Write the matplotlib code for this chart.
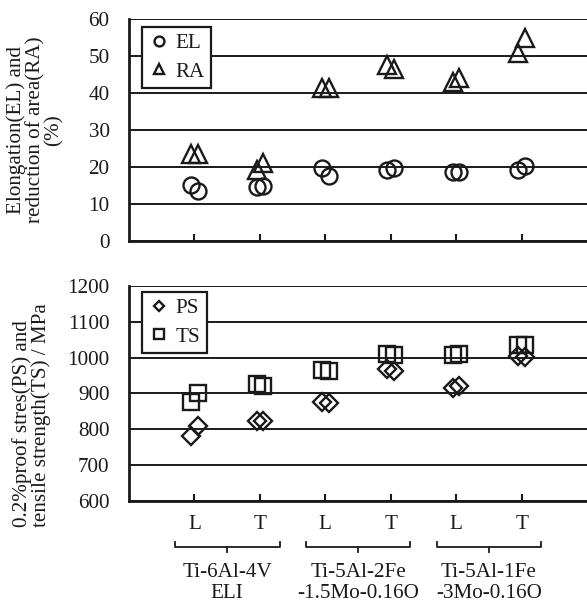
import matplotlib
matplotlib.use("Agg")
import matplotlib.pyplot as plt
import matplotlib.transforms as mtransforms
import numpy as np

plt.rcParams['font.family'] = ['Liberation Serif', 'DejaVu Serif']

# ---- data ----
directions = ["L", "T", "L", "T", "L", "T"]
alloys = ["Ti-6Al-4V\nELI", "Ti-5Al-2Fe\n-1.5Mo-0.16O", "Ti-5Al-1Fe\n-3Mo-0.16O"]
EL_a = [15.1, 14.5, 19.6, 19.2, 18.7, 19.2]
EL_b = [13.6, 15.0, 17.6, 19.6, 18.7, 20.4]
RA_a = [23.6, 19.2, 41.3, 47.6, 43.1, 50.7]
RA_b = [23.6, 21.0, 41.3, 46.5, 44.0, 54.8]
PS_a = [782, 824, 877, 968, 914, 1005]
PS_b = [810, 824, 872, 963, 920, 1002]
TS_a = [877, 925, 965, 1010, 1007, 1035]
TS_b = [902, 921, 963, 1007, 1011, 1035]
top_ticks = [0, 10, 20, 30, 40, 50, 60]
bot_ticks = [600, 700, 800, 900, 1000, 1100, 1200]

x = np.arange(1, len(directions) + 1)
dx = 0.05
xa, xb = x - dx, x + dx

fig = plt.figure(figsize=(5.87, 6.03), dpi=100)
ax1 = fig.add_axes([0.2198, 0.6003, 0.7802, 0.3682])
ax2 = fig.add_axes([0.2198, 0.1692, 0.7802, 0.3566])

FS = 15.2
INK = '#1a1a1a'
mk = dict(linestyle='none', markerfacecolor='none', markeredgecolor=INK, markeredgewidth=1.7)

def style(ax, ticks):
    ax.set_xlim(0, 7)
    ax.set_ylim(ticks[0], ticks[-1])
    ax.set_yticks(ticks)
    ax.set_xticks(x)
    for s in ['top', 'right']:
        ax.spines[s].set_visible(False)
    for s in ['left', 'bottom']:
        ax.spines[s].set_linewidth(2)
        ax.spines[s].set_color(INK)
    ax.grid(axis='y', color=INK, linewidth=1.4)
    ax.set_axisbelow(True)
    ax.tick_params(axis='y', length=0, pad=14, labelsize=FS, labelcolor=INK)
    ax.tick_params(axis='x', direction='in', length=5, width=1.5, color=INK,
                   labelsize=FS, labelcolor=INK, pad=10)

style(ax1, top_ticks)
style(ax2, bot_ticks)

ax1.plot(xa, EL_a, marker='o', markersize=11.5, label='EL', **mk)
ax1.plot(xb, EL_b, marker='o', markersize=11.5, **mk)
ax1.plot(xa, RA_a, marker='^', markersize=12.5, label='RA', **mk)
ax1.plot(xb, RA_b, marker='^', markersize=12.5, **mk)
ax1.set_xticklabels([])

ax2.plot(xa, PS_a, marker='D', markersize=9, label='PS', **mk)
ax2.plot(xb, PS_b, marker='D', markersize=9, **mk)
ax2.plot(xa, TS_a, marker='s', markersize=11.5, label='TS', **mk)
ax2.plot(xb, TS_b, marker='s', markersize=11.5, **mk)
ax2.set_xticklabels(directions)

for ax, top in [(ax1, 0.964), (ax2, 0.972)]:
    leg = ax.legend(loc='upper left', bbox_to_anchor=(0.028, top), borderaxespad=0,
                    fontsize=FS, handlelength=1.0, handletextpad=0.3, borderpad=0.3,
                    labelspacing=0.42, markerscale=0.62, fancybox=False, framealpha=1)
    leg.get_frame().set_edgecolor(INK)
    leg.get_frame().set_linewidth(1.6)
    for t in leg.get_texts():
        t.set_color(INK)

ax1.set_ylabel("Elongation(EL) and\nreduction of area(RA)\n(%)", fontsize=FS,
               linespacing=0.98, color=INK)
ax1.yaxis.set_label_coords(-0.142, 0.5)
ax2.set_ylabel("0.2%proof stres(PS) and\ntensile strength(TS) / MPa", fontsize=FS,
               linespacing=0.98, color=INK, multialignment='left')
ax2.yaxis.set_label_coords(-0.17, 0.40)

# group brackets
trans = mtransforms.blended_transform_factory(ax2.transData, ax2.transAxes)
for i, name in enumerate(alloys):
    c = x[2 * i] + 0.5
    half = 0.8
    ax2.plot([c - half, c - half, c + half, c + half], [-0.19, -0.214, -0.214, -0.19],
             transform=trans, clip_on=False, color=INK, linewidth=1.3)
    ax2.plot([c, c], [-0.214, -0.237], transform=trans, clip_on=False,
             color=INK, linewidth=1.3)
    ax2.text(c, -0.38, name, transform=trans, ha='center', va='center',
             fontsize=FS, linespacing=1.12, color=INK)

fig.savefig("out.png", dpi=100)
